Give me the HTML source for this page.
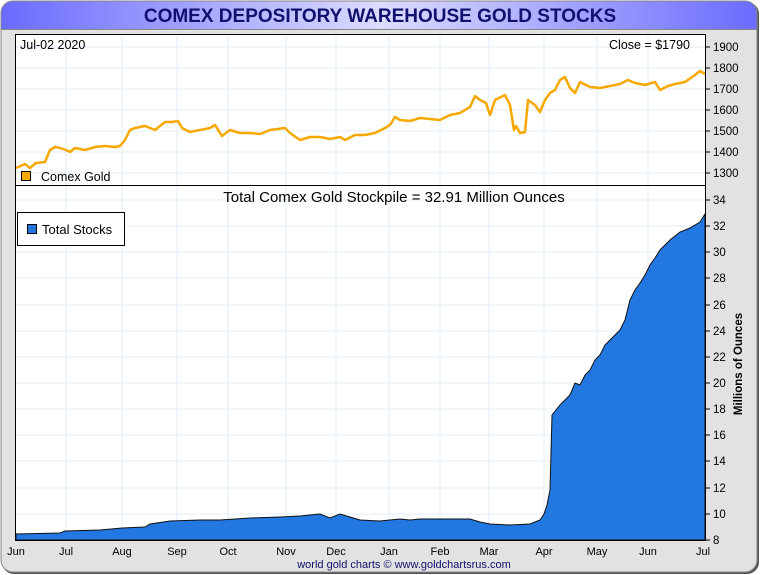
<!DOCTYPE html>
<html><head><meta charset="utf-8"><style>
body{margin:0;background:#fff;}
svg{display:block;font-family:"Liberation Sans",sans-serif;}
</style></head><body>
<svg width="760" height="575" viewBox="0 0 760 575" xmlns="http://www.w3.org/2000/svg">
<defs>
<linearGradient id="tb" x1="0" x2="1" y1="0" y2="0">
<stop offset="0" stop-color="#6a6aff"/><stop offset="0.5" stop-color="#dcdcff"/><stop offset="1" stop-color="#6a6aff"/>
</linearGradient>
<clipPath id="fr"><rect x="1" y="1" width="756" height="571" rx="12"/></clipPath>
</defs>
<rect x="2" y="2" width="757" height="572" rx="12" fill="#555"/>
<g clip-path="url(#fr)">
<rect x="0" y="0" width="760" height="575" fill="#e2e2e2"/>
<rect x="0" y="0" width="760" height="29" fill="url(#tb)"/>
<line x1="0" y1="29.5" x2="760" y2="29.5" stroke="#888"/>
</g>
<rect x="1" y="1" width="756" height="571" rx="12" fill="none" stroke="#888"/>
<text x="380" y="22" text-anchor="middle" font-size="19" font-weight="bold" fill="#10106e">COMEX DEPOSITORY WAREHOUSE GOLD STOCKS</text>
<rect x="15.5" y="34.5" width="690" height="506" fill="#fff" stroke="#000"/>
<g stroke="#e3eef8" stroke-width="1">
<line x1="66" y1="35" x2="66" y2="540"/><line x1="122" y1="35" x2="122" y2="540"/><line x1="177" y1="35" x2="177" y2="540"/><line x1="228" y1="35" x2="228" y2="540"/><line x1="286" y1="35" x2="286" y2="540"/><line x1="336" y1="35" x2="336" y2="540"/><line x1="389" y1="35" x2="389" y2="540"/><line x1="440" y1="35" x2="440" y2="540"/><line x1="489" y1="35" x2="489" y2="540"/><line x1="544" y1="35" x2="544" y2="540"/><line x1="597" y1="35" x2="597" y2="540"/><line x1="648" y1="35" x2="648" y2="540"/>
<line x1="16" y1="47" x2="705" y2="47"/><line x1="16" y1="68" x2="705" y2="68"/><line x1="16" y1="89" x2="705" y2="89"/><line x1="16" y1="110" x2="705" y2="110"/><line x1="16" y1="131" x2="705" y2="131"/><line x1="16" y1="152" x2="705" y2="152"/><line x1="16" y1="173" x2="705" y2="173"/>
<line x1="16" y1="200" x2="705" y2="200"/><line x1="16" y1="226" x2="705" y2="226"/><line x1="16" y1="252" x2="705" y2="252"/><line x1="16" y1="278" x2="705" y2="278"/><line x1="16" y1="305" x2="705" y2="305"/><line x1="16" y1="331" x2="705" y2="331"/><line x1="16" y1="357" x2="705" y2="357"/><line x1="16" y1="383" x2="705" y2="383"/><line x1="16" y1="409" x2="705" y2="409"/><line x1="16" y1="435" x2="705" y2="435"/><line x1="16" y1="461" x2="705" y2="461"/><line x1="16" y1="488" x2="705" y2="488"/><line x1="16" y1="514" x2="705" y2="514"/>
</g>
<line x1="16" y1="185.5" x2="705" y2="185.5" stroke="#000"/>
<polyline fill="none" stroke="#f7a800" stroke-width="2.5" stroke-linejoin="round" points="16,168 25,164 30,168 36,163 45,162 50,150 55,147 60,148 66,150 70,152 75,148 85,150 95,147 105,146 115,147 120,146 125,140 130,130 135,128 145,126 155,130 165,122 172,122 178,121 182,128 190,132 200,130 210,128 215,125 222,136 230,130 240,133 250,133 260,134 270,130 285,128 290,133 300,140 310,137 320,137 330,139 340,137 345,140 355,135 365,135 375,133 385,128 390,125 395,117 400,120 410,121 420,118 430,119 440,120 450,115 460,113 470,107 475,96 480,100 486,103 490,115 495,100 505,95 510,105 514,130 516,126 520,133 525,132 528,100 535,105 540,112 545,100 550,93 555,90 560,80 565,77 570,88 575,93 580,82 590,87 600,88 610,86 620,84 628,80 635,83 645,85 655,82 660,90 668,86 675,84 685,82 695,75 700,71 705,74"/>
<polygon fill="#2277e0" stroke="#111" stroke-width="1" points="16,540 16,534 60,533 65,531 100,530 122,528 145,527 150,524 170,521 200,520 220,520 250,518 280,517 300,516 320,514 330,518 335,516 340,514 350,517 360,520 380,521 400,519 410,520 420,519 460,519 470,519 480,522 490,524 510,525 530,524 540,520 544,514 547,505 550,490 552,415 560,405 570,395 575,383 580,385 585,375 590,370 595,360 600,355 605,345 610,340 615,335 620,330 625,320 630,300 635,290 640,283 645,275 650,265 655,258 660,250 665,245 670,240 675,236 680,232 690,228 700,222 705,214 705,540"/>
<rect x="15.5" y="34.5" width="690" height="506" fill="none" stroke="#000"/>
<text x="20" y="49" font-size="12.5" fill="#000">Jul-02  2020</text>
<text x="690" y="49" font-size="12.5" fill="#000" text-anchor="end">Close = $1790</text>
<rect x="21.5" y="171.5" width="9" height="9" fill="#f7a800" stroke="#000"/>
<text x="41" y="181" font-size="12.5">Comex Gold</text>
<text x="394" y="202" font-size="15" text-anchor="middle">Total Comex Gold Stockpile = 32.91 Million Ounces</text>
<rect x="17.5" y="212.5" width="107" height="33" fill="#fff" stroke="#000"/>
<rect x="27.5" y="224.5" width="9" height="9" fill="#2277e0" stroke="#000"/>
<text x="42" y="234" font-size="13">Total Stocks</text>
<g font-size="11.5" fill="#000">
<g stroke="#000"><line x1="705" y1="47" x2="710" y2="47"/><line x1="705" y1="68" x2="710" y2="68"/><line x1="705" y1="89" x2="710" y2="89"/><line x1="705" y1="110" x2="710" y2="110"/><line x1="705" y1="131" x2="710" y2="131"/><line x1="705" y1="152" x2="710" y2="152"/><line x1="705" y1="173" x2="710" y2="173"/>
<line x1="705" y1="200" x2="710" y2="200"/><line x1="705" y1="226" x2="710" y2="226"/><line x1="705" y1="252" x2="710" y2="252"/><line x1="705" y1="278" x2="710" y2="278"/><line x1="705" y1="305" x2="710" y2="305"/><line x1="705" y1="331" x2="710" y2="331"/><line x1="705" y1="357" x2="710" y2="357"/><line x1="705" y1="383" x2="710" y2="383"/><line x1="705" y1="409" x2="710" y2="409"/><line x1="705" y1="435" x2="710" y2="435"/><line x1="705" y1="461" x2="710" y2="461"/><line x1="705" y1="488" x2="710" y2="488"/><line x1="705" y1="514" x2="710" y2="514"/><line x1="705" y1="540" x2="710" y2="540"/></g>
<text x="713" y="51">1900</text><text x="713" y="72">1800</text><text x="713" y="93">1700</text><text x="713" y="114">1600</text><text x="713" y="135">1500</text><text x="713" y="156">1400</text><text x="713" y="177">1300</text>
<text x="713" y="204">34</text><text x="713" y="230">32</text><text x="713" y="256">30</text><text x="713" y="282">28</text><text x="713" y="309">26</text><text x="713" y="335">24</text><text x="713" y="361">22</text><text x="713" y="387">20</text><text x="713" y="413">18</text><text x="713" y="439">16</text><text x="713" y="465">14</text><text x="713" y="492">12</text><text x="713" y="518">10</text><text x="713" y="544">8</text>
</g>
<text transform="translate(742,364) rotate(-90)" font-size="11.5" font-weight="bold" text-anchor="middle">Millions of Ounces</text>
<g font-size="11" text-anchor="middle" fill="#000">
<text x="16" y="555">Jun</text><text x="66" y="555">Jul</text><text x="122" y="555">Aug</text><text x="177" y="555">Sep</text><text x="228" y="555">Oct</text><text x="286" y="555">Nov</text><text x="336" y="555">Dec</text><text x="389" y="555">Jan</text><text x="440" y="555">Feb</text><text x="489" y="555">Mar</text><text x="544" y="555">Apr</text><text x="597" y="555">May</text><text x="648" y="555">Jun</text><text x="703" y="555">Jul</text>
</g>
<text x="404" y="568" font-size="11" text-anchor="middle" fill="#10106e">world gold charts © www.goldchartsrus.com</text>
</svg>
</body></html>
